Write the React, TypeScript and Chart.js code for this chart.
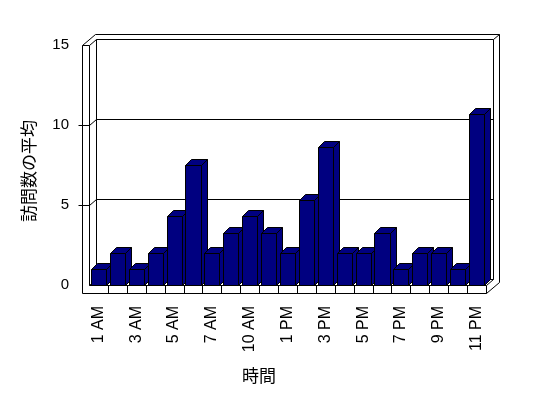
import React, { useEffect, useRef } from 'react';
import { Chart, registerables } from 'chart.js';

Chart.register(...registerables);

const hours = [
  '1 AM', '2 AM', '3 AM', '4 AM', '5 AM', '6 AM', '7 AM', '8 AM', '10 AM', '12 PM',
  '1 PM', '2 PM', '3 PM', '4 PM', '5 PM', '6 PM', '7 PM', '8 PM', '9 PM', '10 PM', '11 PM',
];
const visits = [1, 2, 1, 2, 4.33, 7.5, 2, 3.25, 4.33, 3.25, 2, 5.33, 8.6, 2, 2, 3.25, 1, 2, 2, 1, 10.7];
const yTickValues = [0, 5, 10, 15];
const xTitle = '時間';
const yTitle = '訪問数の平均';

const NAVY = '#000080';
const DEPTH = { x: 7, y: -6 };
const WALL = { x: 6, y: -5 };
const BAR_DEPTH = { x: 6, y: -6 };
const SLAB = 7;
const FLOOR = 8;
const LATIN = "'Liberation Sans', Arial, sans-serif";
const CJK = "'Noto Sans CJK JP', sans-serif";

const px = (v: number) => Math.round(v) + 0.5;

function path(ctx: CanvasRenderingContext2D, pts: number[][]) {
  ctx.beginPath();
  pts.forEach(([a, b], i) => (i ? ctx.lineTo(px(a), px(b)) : ctx.moveTo(px(a), px(b))));
}

const framePlugin = {
  id: 'frame3d',
  beforeDatasetsDraw(chart: any) {
    const { ctx, chartArea } = chart;
    const { left: L, right: R, top: T, bottom: B } = chartArea;
    const ys = chart.scales.y;
    const dx = DEPTH.x, dy = DEPTH.y, wx = WALL.x, wy = WALL.y;
    ctx.save();
    ctx.lineWidth = 1;
    ctx.strokeStyle = '#000';
    const line = (pts: number[][]) => { path(ctx, pts); ctx.stroke(); };
    // outer silhouette
    line([
      [L - SLAB, T], [L - SLAB + dx + wx, T + dy + wy], [R + dx + wx, T + dy + wy],
      [R + dx + wx, B + FLOOR + dy + wy], [R, B + FLOOR], [L - SLAB, B + FLOOR], [L - SLAB, T],
    ]);
    // left wall slab
    line([[L - SLAB, T], [L, T], [L, B]]);
    line([[L, T], [L + dx, T + dy]]);
    // back wall inner
    line([[L + dx, B + dy], [L + dx, T + dy], [R + dx, T + dy], [R + dx, B + dy]]);
    line([[R + dx, T + dy], [R + dx + wx, T + dy + wy]]);
    // floor
    line([[L, B], [R, B], [R, B + FLOOR]]);
    line([[L, B], [L + dx, B + dy], [R + dx, B + dy], [R, B]]);
    // category cells on floor front
    const n = hours.length;
    for (let i = 1; i < n; i++) {
      const x = L + (i * (R - L)) / n;
      line([[x, B], [x, B + FLOOR]]);
    }
    // gridlines
    yTickValues.forEach((v) => {
      if (v === ys.min || v === ys.max) return;
      const yy = ys.getPixelForValue(v);
      line([[L - SLAB - 4, yy], [L, yy], [L + dx, yy + dy], [R + dx, yy + dy]]);
    });
    ctx.restore();
  },
  afterDatasetsDraw(chart: any) {
    const { ctx } = chart;
    const meta = chart.getDatasetMeta(0);
    const bx = BAR_DEPTH.x, by = BAR_DEPTH.y;
    ctx.save();
    ctx.lineWidth = 1;
    ctx.strokeStyle = '#000';
    ctx.fillStyle = NAVY;
    meta.data.forEach((el: any) => {
      const { x, y, base, width } = el.getProps(['x', 'y', 'base', 'width'], true);
      const x0 = Math.round(x - width / 2);
      const x1 = Math.round(x + width / 2);
      const top = Math.round(y);
      const bot = Math.round(base);
      const faces = [
        [[x1, bot], [x1, top], [x1 + bx, top + by], [x1 + bx, bot + by]],
        [[x0, top], [x1, top], [x1 + bx, top + by], [x0 + bx, top + by]],
        [[x0, bot], [x0, top], [x1, top], [x1, bot]],
      ];
      faces.forEach((f) => {
        path(ctx, f);
        ctx.closePath();
        ctx.fill();
        ctx.stroke();
      });
    });
    ctx.restore();
  },
  afterDraw(chart: any) {
    const { ctx } = chart;
    ctx.save();
    ctx.fillStyle = '#000';
    ctx.font = `17px ${CJK}`;
    ctx.textAlign = 'center';
    ctx.textBaseline = 'middle';
    ctx.fillText(xTitle, 259, 376);
    ctx.translate(29, 171);
    ctx.rotate(-Math.PI / 2);
    ctx.fillText(yTitle, 0, 0);
    ctx.restore();
  },
};

export default function App() {
  const ref = useRef<HTMLCanvasElement | null>(null);
  useEffect(() => {
    document.body.style.margin = '0';
    const canvas = ref.current!;
    const chart = new Chart(canvas, {
      type: 'bar',
      data: {
        labels: hours,
        datasets: [
          {
            data: visits,
            backgroundColor: 'rgba(0,0,0,0)',
            borderWidth: 0,
            categoryPercentage: 1,
            barPercentage: 0.8,
          },
        ],
      },
      options: {
        responsive: false,
        animation: false,
        devicePixelRatio: 1,
        layout: { padding: { left: 0, top: 45, right: 62, bottom: 0 } },
        plugins: { legend: { display: false }, tooltip: { enabled: false }, title: { display: false } },
        scales: {
          x: {
            grid: { display: false, drawTicks: false },
            border: { display: false },
            ticks: {
              autoSkip: false,
              minRotation: 90,
              maxRotation: 90,
              padding: 21,
              color: '#000',
              font: { family: LATIN, size: 16 },
              callback: (_v: any, i: number) => (i % 2 === 0 ? hours[i] : ''),
            },
            afterFit: (s: any) => { s.height = 113; },
          },
          y: {
            min: 0,
            max: 15,
            grid: { display: false, drawTicks: false },
            border: { display: false },
            ticks: {
              stepSize: 5,
              padding: 20,
              color: '#000',
              font: { family: LATIN, size: 15 },
            },
            afterFit: (s: any) => { s.width = 89; },
          },
        },
      },
      plugins: [framePlugin],
    });
    return () => chart.destroy();
  }, []);
  return (
    <div style={{ position: 'absolute', left: 0, top: 0, width: 548, height: 398 }}>
      <canvas ref={ref} width={548} height={398} style={{ width: 548, height: 398 }} />
    </div>
  );
}
